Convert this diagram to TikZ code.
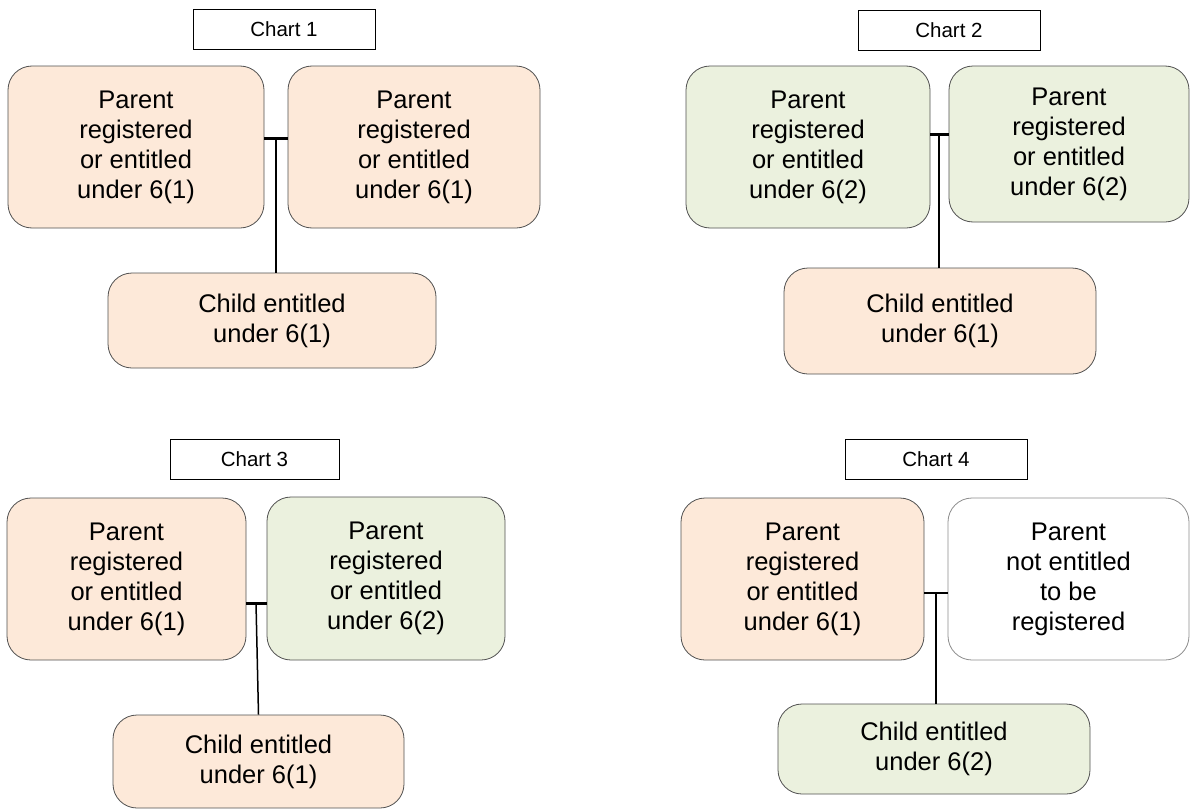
\documentclass[tikz,border=0pt]{standalone}
\usepackage{fontspec}
\setmainfont{Liberation Sans}
\definecolor{peach}{HTML}{FDE9D9}
\definecolor{sage}{HTML}{EBF1DE}
\definecolor{edge}{HTML}{505050}
\begin{document}
\begin{tikzpicture}[x=1pt,y=-1pt,
  box/.style={draw=edge, line width=0.8pt, rounded corners=24pt, align=center, inner sep=2pt,
    font=\fontsize{25.5}{30}\selectfont},
  pbox/.style={box, fill=peach},
  gbox/.style={box, fill=sage},
  wbox/.style={box, fill=white, draw=black!45},
  title/.style={draw=black, line width=0.8pt, fill=white, minimum width=182pt, minimum height=40pt,
    inner sep=0pt, font=\fontsize{20.5}{24}\selectfont},
  thickbar/.style={line width=3pt},
  thinline/.style={line width=1.5pt},
]
\useasboundingbox (0,0) rectangle (1190,808);
\begin{scope}
\clip (0,0) rectangle (1190,808);
% Chart 1
\node[title] (t1) at (284,29) {Chart 1};
\node[pbox, minimum width=256pt, minimum height=162pt] (p1a) at (136,147) {Parent\\registered\\or entitled\\under 6(1)};
\node[pbox, minimum width=252pt, minimum height=162pt] (p1b) at (414,147) {Parent\\registered\\or entitled\\under 6(1)};
\node[pbox, minimum width=328pt, minimum height=95pt] (c1) at (272,320.5) {Child entitled\\under 6(1)};
\coordinate (j1) at (276,138);
\draw[thickbar] (j1 -| p1a.east) -- (j1 -| p1b.west);
\draw[line width=2.5pt] (j1) -- (j1 |- c1.north);
% Chart 2
\node[title] (t2) at (949,30) {Chart 2};
\node[gbox, minimum width=244pt, minimum height=162pt] (p2a) at (808,147) {Parent\\registered\\or entitled\\under 6(2)};
\node[gbox, minimum width=240pt, minimum height=156pt] (p2b) at (1069,144) {Parent\\registered\\or entitled\\under 6(2)};
\node[pbox, minimum width=312pt, minimum height=106pt] (c2) at (940,321) {Child entitled\\under 6(1)};
\coordinate (j2) at (939,134);
\draw[thickbar] (j2 -| p2a.east) -- (j2 -| p2b.west);
\draw[thinline] (j2) -- (j2 |- c2.north);
% Chart 3
\node[title, minimum width=169pt] (t3) at (254.5,459) {Chart 3};
\node[pbox, minimum width=239pt, minimum height=162pt] (p3a) at (126.5,579) {Parent\\registered\\or entitled\\under 6(1)};
\node[gbox, minimum width=238pt, minimum height=163pt] (p3b) at (386,578.5) {Parent\\registered\\or entitled\\under 6(2)};
\node[pbox, minimum width=291pt, minimum height=93pt] (c3) at (258.5,761.5) {Child entitled\\under 6(1)};
\coordinate (j3) at (256,603);
\draw[thickbar] (j3 -| p3a.east) -- (j3 -| p3b.west);
\draw[thinline] (j3) -- (c3.north);
% Chart 4
\node[title] (t4) at (936,459) {Chart 4};
\node[pbox, minimum width=243pt, minimum height=162pt] (p4a) at (802.5,579) {Parent\\registered\\or entitled\\under 6(1)};
\node[wbox, minimum width=241pt, minimum height=162pt] (p4b) at (1068.5,579) {Parent\\not entitled\\to be\\registered};
\node[gbox, minimum width=312pt, minimum height=90pt] (c4) at (934,749) {Child entitled\\under 6(2)};
\coordinate (j4) at (936,593);
\draw[line width=2.2pt] (j4 -| p4a.east) -- (j4 -| p4b.west);
\draw[line width=2pt] (j4) -- (j4 |- c4.north);
\end{scope}
\end{tikzpicture}
\end{document}
